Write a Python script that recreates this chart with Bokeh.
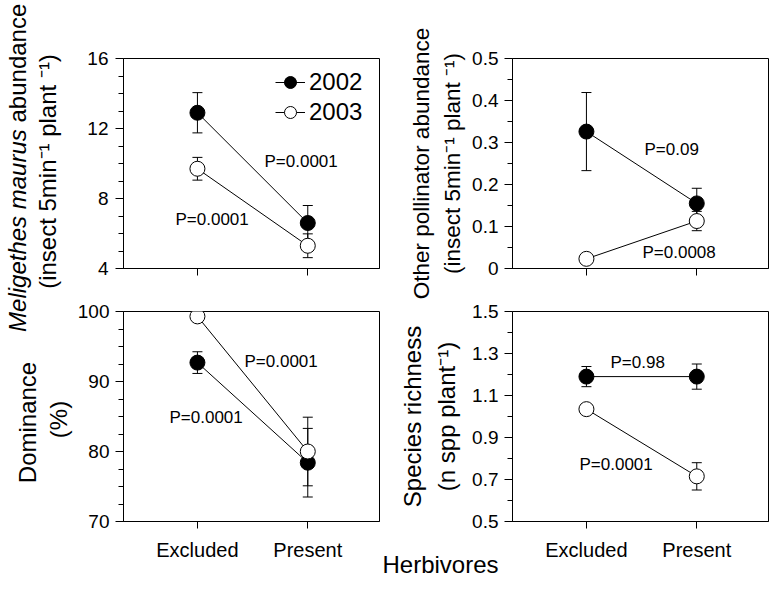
from math import pi
from bokeh.plotting import figure
from bokeh.layouts import row, column
from bokeh.models import (ColumnDataSource, Whisker, TeeHead, Label, Legend, LegendItem,
                          Range1d, FixedTicker, Title)
from bokeh.embed import file_html
from bokeh.resources import INLINE

FONT = "Liberation Sans"

# ---------------- data ----------------
categories = ["Excluded", "Present"]
x_pos = [1, 2]
years = ["2002", "2003"]

# Meligethes maurus abundance (insect 5min-1 plant-1)
mel_2002 = [12.9, 6.6]
mel_2002_se = [1.15, 1.0]
mel_2003 = [9.7, 5.3]
mel_2003_se = [0.65, 0.68]
mel_ticks = [4, 8, 12, 16]
mel_tick_labels = ["4", "8", "12", "16"]
mel_p = ["P=0.0001", "P=0.0001"]

# Other pollinator abundance
oth_2002 = [0.326, 0.155]
oth_2002_se = [0.093, 0.036]
oth_2003 = [0.023, 0.113]
oth_2003_se = [0.0, 0.023]
oth_ticks = [0, 0.1, 0.2, 0.3, 0.4, 0.5]
oth_tick_labels = ["0", "0.1", "0.2", "0.3", "0.4", "0.5"]
oth_p = ["P=0.09", "P=0.0008"]

# Dominance (%)
dom_2002 = [92.7, 78.4]
dom_2002_se = [1.55, 4.9]
dom_2003 = [99.3, 80.0]
dom_2003_se = [0.0, 4.9]
dom_ticks = [70, 80, 90, 100]
dom_tick_labels = ["70", "80", "90", "100"]
dom_p = ["P=0.0001", "P=0.0001"]

# Species richness (n spp plant-1)
ric_2002 = [1.19, 1.19]
ric_2002_se = [0.048, 0.06]
ric_2003 = [1.035, 0.715]
ric_2003_se = [0.0, 0.065]
ric_ticks = [0.5, 0.7, 0.9, 1.1, 1.3, 1.5]
ric_tick_labels = ["0.5", "0.7", "0.9", "1.1", "1.3", "1.5"]
ric_p = ["P=0.98", "P=0.0001"]


def minor_between(ticks, n):
    out = []
    for a, b in zip(ticks[:-1], ticks[1:]):
        step = (b - a) / n
        out += [a + step * k for k in range(1, n)]
    return out


def panel(yr, yticks, ylabels, nminor, series, mb, show_x, ystandoff=6):
    p = figure(title=None, toolbar_location=None, output_backend="svg",
               frame_width=256, frame_height=210,
               min_border_left=mb[0], min_border_right=mb[1],
               min_border_top=mb[2], min_border_bottom=mb[3],
               x_range=Range1d(0.33, 2.65), y_range=Range1d(*yr),
               background_fill_color="white", border_fill_color="white",
               outline_line_color="black", outline_line_width=1)
    p.grid.visible = False

    ya = p.yaxis[0]
    ya.ticker = FixedTicker(ticks=yticks, minor_ticks=minor_between(yticks, nminor))
    ya.major_label_overrides = dict(zip(yticks, ylabels))
    ya.axis_line_color = "black"
    ya.major_tick_out = 8
    ya.major_tick_in = 0
    ya.minor_tick_out = 5
    ya.minor_tick_in = 0
    ya.major_label_standoff = ystandoff
    ya.major_label_text_font = FONT
    ya.major_label_text_font_size = "19px"
    ya.major_label_text_color = "black"

    xa = p.xaxis[0]
    xa.ticker = FixedTicker(ticks=x_pos, minor_ticks=[])
    xa.major_label_overrides = dict(zip(x_pos, categories))
    xa.axis_line_color = "black"
    xa.major_tick_out = 7
    xa.major_tick_in = 0
    xa.minor_tick_out = 0
    xa.major_label_text_font = FONT
    if show_x:
        xa.major_label_text_font_size = "20px"
        xa.major_label_standoff = 10
        xa.major_label_text_color = "black"
    else:
        xa.major_label_text_font_size = "10px"
        xa.major_label_standoff = 0
        xa.major_label_text_color = None

    rends = []
    for (vals, ses, fill) in series:
        src = ColumnDataSource(dict(x=x_pos,
                                    lower=[v - e for v, e in zip(vals, ses)],
                                    upper=[v + e for v, e in zip(vals, ses)]))
        w = Whisker(base="x", lower="lower", upper="upper", source=src,
                    line_color="black", line_width=1,
                    upper_head=TeeHead(size=10, line_color="black", line_width=1),
                    lower_head=TeeHead(size=10, line_color="black", line_width=1))
        p.add_layout(w)
    for (vals, ses, fill) in series:
        ln = p.line(x_pos, vals, line_color="black", line_width=1)
        rends.append([ln])
    for i, (vals, ses, fill) in enumerate(series):
        sc = p.scatter(x_pos, vals, marker="circle", size=15, fill_color=fill,
                       line_color="black", line_width=1)
        rends[i].append(sc)
    return p, rends


def plabel(p, text, sx, sy):
    # sy is the centre of the text line
    p.add_layout(Label(x=sx, y=sy, x_units="screen", y_units="screen", text=text,
                       text_font=FONT, text_font_size="17px", text_color="black",
                       text_align="left", text_baseline="middle"))


def ylab(p, text, size, standoff):
    ya = p.yaxis[0]
    ya.axis_label = text
    ya.axis_label_text_font = FONT
    ya.axis_label_text_font_size = size
    ya.axis_label_text_font_style = "normal"
    ya.axis_label_text_color = "black"
    ya.axis_label_text_align = "center"
    ya.axis_label_text_line_height = 1.25
    ya.axis_label_standoff = standoff


# ---------------- panels ----------------
tl, tl_r = panel((4, 16), mel_ticks, mel_tick_labels, 4,
                 [(mel_2002, mel_2002_se, "black"), (mel_2003, mel_2003_se, "white")],
                 (47, 3, 58, 27), False, ystandoff=7)
tr, tr_r = panel((0, 0.5), oth_ticks, oth_tick_labels, 2,
                 [(oth_2002, oth_2002_se, "black"), (oth_2003, oth_2003_se, "white")],
                 (130, 4, 58, 32), False)
bl, bl_r = panel((70, 100), dom_ticks, dom_tick_labels, 4,
                 [(dom_2002, dom_2002_se, "black"), (dom_2003, dom_2003_se, "white")],
                 (47, 3, 16, 69), True)
br, br_r = panel((0.5, 1.5), ric_ticks, ric_tick_labels, 2,
                 [(ric_2002, ric_2002_se, "black"), (ric_2003, ric_2003_se, "white")],
                 (130, 4, 11, 69), True)

# legend
legend = Legend(items=[LegendItem(label=years[0], renderers=tl_r[0]),
                       LegendItem(label=years[1], renderers=tl_r[1])],
                location=(152, 141), glyph_width=30, glyph_height=30, spacing=0,
                padding=0, margin=0, label_standoff=4, border_line_color=None,
                background_fill_alpha=0, label_text_font=FONT,
                label_text_font_size="24px", label_text_color="black")
tl.add_layout(legend)

# P-values (x = left edge, y = line centre, pixels from the frame's bottom-left)
plabel(tl, mel_p[0], 141, 107)
plabel(tl, mel_p[1], 52, 49)
plabel(tr, oth_p[0], 132, 119)
plabel(tr, oth_p[1], 130, 16)
plabel(bl, dom_p[0], 121, 160)
plabel(bl, dom_p[1], 46, 104)
plabel(br, ric_p[0], 98, 159)
plabel(br, ric_p[1], 67, 57)

# right-column axis titles
ylab(tr, "Other pollinator abundance\n(insect 5min\u207b\u00b9 plant \u207b\u00b9)", "22.5px", 4)
ylab(br, "Species richness\n(n spp plant\u207b\u00b9)", "24px", 9)

# common x title
br.add_layout(Title(text="Herbivores", align="left", offset=-130, vertical_align="top",
                    standoff=-26, text_font=FONT, text_font_size="24px",
                    text_font_style="normal", text_color="black"), "below")

# left column of axis titles (coordinates = page pixels)
lc = figure(title=None, toolbar_location=None, output_backend="svg",
            frame_width=74, frame_height=590,
            min_border_left=0, min_border_right=0, min_border_top=0, min_border_bottom=0,
            x_range=Range1d(0, 74), y_range=Range1d(590, 0),
            x_axis_location=None, y_axis_location=None,
            outline_line_color=None, background_fill_color="white",
            border_fill_color="white")
lc.grid.visible = False


def vlabel(p, text, x, y, italic=False, align="center"):
    # x is the centre of the (rotated) text line
    p.add_layout(Label(x=x, y=y, text=text, angle=pi / 2,
                       text_font=FONT, text_font_size="24px", text_color="black",
                       text_font_style="italic" if italic else "normal",
                       text_align=align, text_baseline="middle"))


vlabel(lc, "abundance", 17, 122, align="left")
vlabel(lc, "Meligethes maurus", 17, 128.7, italic=True, align="right")
vlabel(lc, "(insect 5min\u207b\u00b9 plant \u207b\u00b9)", 47, 171)
vlabel(lc, "Dominance", 27, 422)
vlabel(lc, "(%)", 57.5, 419)

layout = row(lc, column(tl, bl), column(tr, br))

open("out.html", "w").write(file_html(layout, INLINE))
